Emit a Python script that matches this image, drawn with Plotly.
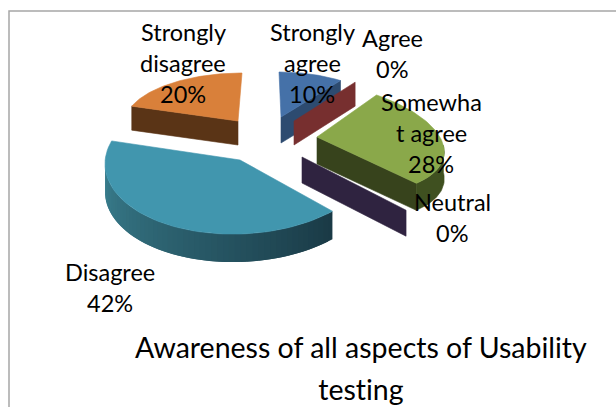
import math
import plotly.graph_objects as go

categories = ["Strongly agree", "Agree", "Somewhat agree", "Neutral", "Disagree", "Strongly disagree"]
values = [10, 0, 28, 0, 42, 20]
label_lines = [["Strongly", "agree", "10%"], ["Agree", "0%"], ["Somewha", "t agree", "28%"],
               ["Neutral", "0%"], ["Disagree", "42%"], ["Strongly", "disagree", "20%"]]
title_lines = ["Awareness of all aspects of Usability", "testing"]

top_colors = ["#4571a8", "#772f2f", "#8aa84a", "#2f2340", "#4196ae", "#d9803a"]
side_colors = ["#2d4b70", "#772f2f", "#37431c", "#2f2340", "#3a8090", "#5a3416"]

# view geometry for each slice of the projected pie: apex x, apex y, rx, ry, shear x, shear y, depth
views = [(281, 117, 104, 45, 2, 0, 26), (294, 121, 104, 48, 0, 0, 24), (317, 137, 126, 57, 18, 7, 27),
         (302, 157, 152, 73, 0, 0, 26), (240, 160, 135, 74, 0, -4, 28), (238, 121, 113, 48, -4, 0, 24)]
label_pos = [(312, 32), (392, 38), (431, 102), (452, 202), (110, 272), (183, 32)]
LINE_GAP = 31


def pt(view, deg, down=0.0):
    cx, cy, rx, ry, k, m, _ = view
    t = math.radians(deg)
    return (cx + rx * math.sin(t) - k * math.cos(t), cy - ry * math.cos(t) + m * math.sin(t) + down)


def poly(points, color, stroke=0.6):
    xs = [p[0] for p in points] + [points[0][0]]
    ys = [p[1] for p in points] + [points[0][1]]
    return go.Scatter(x=xs, y=ys, mode="lines", fill="toself", fillcolor=color,
                      line=dict(color=color, width=stroke), hoverinfo="skip", showlegend=False)


def mix(a, b, f):
    ca = [int(a[i:i + 2], 16) for i in (1, 3, 5)]
    cb = [int(b[i:i + 2], 16) for i in (1, 3, 5)]
    return "rgb(%d,%d,%d)" % tuple(round(u + (v - u) * f) for u, v in zip(ca, cb))


fig = go.Figure()
total = sum(values)
starts = [sum(values[:i]) / total * 360 for i in range(len(values))]


def add_slice(i):
    v, a0 = views[i], starts[i]
    a1 = a0 + values[i] / total * 360
    d = v[6]
    if values[i] == 0:
        fig.add_trace(poly([pt(v, a0), (v[0], v[1]), (v[0], v[1] + d), pt(v, a0, d)], side_colors[i]))
        return
    arc = [a0 + (a1 - a0) * n / 60 for n in range(61)]
    apex = (v[0], v[1])
    apex_low = (v[0], v[1] + d)
    # walls that face the viewer
    if categories[i] == "Strongly agree":
        fig.add_trace(poly([apex, pt(v, a1), pt(v, a1, d), apex_low], side_colors[i]))
    if categories[i] == "Strongly disagree":
        fig.add_trace(poly([apex, pt(v, a0), pt(v, a0, d), apex_low], side_colors[i]))
    if categories[i] == "Somewhat agree":
        fig.add_trace(poly([apex, pt(v, a1), pt(v, a1, d), apex_low], side_colors[i]))
        rim = [a for a in arc if a >= 90]
        fig.add_trace(poly([pt(v, a) for a in rim] + [pt(v, a, d) for a in reversed(rim)], "#3f5020"))
    if categories[i] == "Disagree":
        rim = [a for a in arc if a <= 272]
        # strips overlap the next one so that no seams show
        for n in range(len(rim) - 1):
            f = (rim[n] - rim[0]) / (rim[-1] - rim[0])
            end = rim[min(n + 2, len(rim) - 1)]
            fig.add_trace(poly([pt(v, rim[n]), pt(v, end), pt(v, end, d), pt(v, rim[n], d)],
                               mix("#1a3a46", "#3a8090", f), stroke=0))
    fig.add_trace(poly([apex] + [pt(v, a) for a in arc], top_colors[i]))


# painter's order: back pieces first
for i in [5, 0, 1, 3, 2, 4]:
    add_slice(i)

# frame of the chart area
fig.add_trace(go.Scatter(x=[9, 9, 616], y=[407, 11, 11], mode="lines",
                         line=dict(color="#a6a6a6", width=1.5), hoverinfo="skip", showlegend=False))

FONT = "Lato, Carlito, sans-serif"
for i, lines in enumerate(label_lines):
    x, y = label_pos[i]
    for n, s in enumerate(lines):
        fig.add_annotation(x=x, y=y + n * LINE_GAP, text=s, showarrow=False, xanchor="center", yanchor="middle",
                           font=dict(family=FONT, size=23.5, color="#000000"))
for n, s in enumerate(title_lines):
    fig.add_annotation(x=361, y=347 + n * 42, text=s, showarrow=False, xanchor="center", yanchor="middle",
                       font=dict(family=FONT, size=28.5, color="#000000"))

fig.update_layout(width=616, height=407, margin=dict(l=0, r=0, t=0, b=0), paper_bgcolor="white",
                  plot_bgcolor="white", showlegend=False,
                  xaxis=dict(range=[0, 616], visible=False, fixedrange=True),
                  yaxis=dict(range=[407, 0], visible=False, fixedrange=True))
page_fix = ("document.body.style.margin='0';document.body.style.overflow='hidden';"
            "var s=document.createElement('style');"
            "s.textContent='svg text{font-variant-ligatures:none !important;"
            "font-feature-settings:\"liga\" 0,\"clig\" 0 !important}';document.head.appendChild(s);")
fig.write_html("out.html", config=dict(displayModeBar=False), post_script=page_fix)
